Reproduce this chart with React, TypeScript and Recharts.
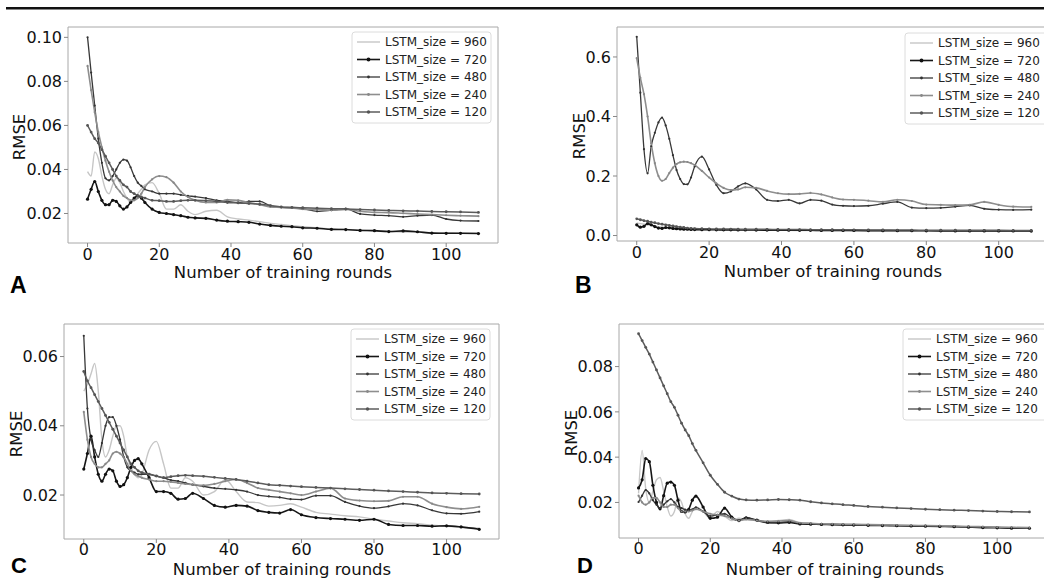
import React from 'react';
import { LineChart, Line, XAxis, YAxis, ReferenceArea } from 'recharts';

const ROUNDS = [
  0, 1, 2, 3, 4, 5, 6, 7, 8, 9, 10, 11, 12, 13, 14, 15, 16,
  18, 20, 22, 24, 26, 28, 30,
  33, 36, 39, 42, 45, 48, 51, 54, 57, 60,
  64, 68, 72, 76, 80, 84, 88, 92, 96, 100, 104, 109,
];

const SIZES = ['960', '720', '480', '240', '120'];

// Panel A
const A_960 = [0.039, 0.037, 0.048, 0.045, 0.037, 0.031, 0.029, 0.033, 0.036, 0.034, 0.030, 0.027, 0.025, 0.026, 0.029, 0.031, 0.033,
  0.034, 0.029, 0.022, 0.022, 0.024, 0.021, 0.0195,
  0.021, 0.0215, 0.0185, 0.0175, 0.017, 0.0163, 0.0155, 0.015, 0.0145, 0.014,
  0.0135, 0.013, 0.0128, 0.0125, 0.012, 0.0118, 0.0116, 0.0115, 0.0113, 0.0112, 0.011, 0.011];
const A_720 = [0.0265, 0.031, 0.0345, 0.030, 0.026, 0.024, 0.024, 0.026, 0.0255, 0.0235, 0.022, 0.023, 0.025, 0.027, 0.028, 0.027, 0.025,
  0.022, 0.0205, 0.020, 0.0195, 0.019, 0.0183, 0.018,
  0.0178, 0.017, 0.0165, 0.0163, 0.016, 0.0152, 0.0146, 0.0142, 0.014, 0.0135,
  0.0133, 0.0128, 0.0127, 0.0123, 0.0122, 0.0118, 0.0121, 0.0117, 0.0111, 0.011, 0.011, 0.0109];
const A_480 = [0.100, 0.084, 0.069, 0.054, 0.043, 0.036, 0.035, 0.037, 0.040, 0.043, 0.0445, 0.044, 0.041, 0.037, 0.034, 0.0325, 0.031,
  0.030, 0.029, 0.029, 0.029, 0.0285, 0.028, 0.0277,
  0.027, 0.026, 0.0255, 0.025, 0.0255, 0.0255, 0.0235, 0.0228, 0.0225, 0.0222,
  0.021, 0.0215, 0.0222, 0.0198, 0.0193, 0.019, 0.0185, 0.019, 0.0193, 0.0175, 0.0168, 0.0166];
const A_240 = [0.087, 0.076, 0.066, 0.057, 0.050, 0.044, 0.039, 0.035, 0.032, 0.030, 0.028, 0.027, 0.026, 0.026, 0.027, 0.029, 0.032,
  0.0355, 0.037, 0.0365, 0.034, 0.030, 0.0275, 0.026,
  0.025, 0.025, 0.0262, 0.026, 0.025, 0.024, 0.023, 0.0228, 0.0225, 0.022,
  0.0218, 0.0215, 0.0218, 0.021, 0.0205, 0.0204, 0.0201, 0.0198, 0.0195, 0.0192, 0.019, 0.0188];
const A_120 = [0.060, 0.057, 0.054, 0.052, 0.049, 0.046, 0.043, 0.040, 0.037, 0.035, 0.033, 0.032, 0.030, 0.029, 0.028, 0.0275, 0.027,
  0.026, 0.0258, 0.0255, 0.0255, 0.0258, 0.026, 0.026,
  0.0258, 0.0255, 0.025, 0.0248, 0.0245, 0.0242, 0.0236, 0.023, 0.0228, 0.0226,
  0.0224, 0.0222, 0.022, 0.0218, 0.0216, 0.0214, 0.0212, 0.0211, 0.0209, 0.0208, 0.0207, 0.0205];

// Panel B
const B_960 = [0.042, 0.040, 0.038, 0.036, 0.034, 0.032, 0.030, 0.028, 0.026, 0.024, 0.022, 0.021, 0.020, 0.019, 0.0185, 0.019, 0.0195,
  0.020, 0.020, 0.0195, 0.019, 0.019, 0.0185, 0.018,
  0.018, 0.0178, 0.0175, 0.0172, 0.017, 0.017, 0.0168, 0.0165, 0.0165, 0.0162,
  0.016, 0.016, 0.0158, 0.0155, 0.0155, 0.0152, 0.015, 0.015, 0.0148, 0.0145, 0.0145, 0.0143];
const B_720 = [0.036, 0.028, 0.031, 0.040, 0.036, 0.030, 0.025, 0.024, 0.027, 0.026, 0.024, 0.023, 0.022, 0.0215, 0.021, 0.0205, 0.020,
  0.0198, 0.0195, 0.0192, 0.019, 0.019, 0.0188, 0.0186,
  0.0184, 0.0182, 0.018, 0.0178, 0.0176, 0.0175, 0.0173, 0.0172, 0.017, 0.0168,
  0.0166, 0.0164, 0.0162, 0.016, 0.0158, 0.0157, 0.0156, 0.0155, 0.0154, 0.0153, 0.0152, 0.015];
const B_480 = [0.668, 0.48, 0.29, 0.209, 0.30, 0.345, 0.38, 0.396, 0.37, 0.325, 0.27, 0.22, 0.19, 0.173, 0.172, 0.195, 0.232,
  0.265, 0.222, 0.17, 0.142, 0.148, 0.165, 0.175,
  0.155, 0.12, 0.116, 0.12, 0.108, 0.12, 0.117, 0.104, 0.1, 0.099,
  0.1, 0.107, 0.113, 0.094, 0.092, 0.093, 0.097, 0.101, 0.09, 0.087, 0.086, 0.087];
const B_240 = [0.596, 0.53, 0.475, 0.40, 0.31, 0.243, 0.2, 0.184, 0.19, 0.21, 0.228, 0.24, 0.246, 0.248, 0.247, 0.243, 0.237,
  0.217, 0.195, 0.175, 0.16, 0.153, 0.155, 0.162,
  0.16, 0.15, 0.142, 0.139, 0.14, 0.143, 0.138, 0.128, 0.121, 0.12,
  0.117, 0.113, 0.12, 0.116, 0.104, 0.103, 0.102, 0.103, 0.113, 0.103, 0.097, 0.096];
const B_120 = [0.056, 0.053, 0.050, 0.048, 0.045, 0.043, 0.040, 0.038, 0.036, 0.034, 0.032, 0.030, 0.028, 0.027, 0.025, 0.024, 0.0235,
  0.023, 0.0225, 0.022, 0.022, 0.0218, 0.0215, 0.0213,
  0.021, 0.0208, 0.0205, 0.0203, 0.020, 0.0198, 0.0196, 0.0194, 0.0192, 0.019,
  0.0188, 0.0186, 0.0184, 0.0182, 0.018, 0.0178, 0.0177, 0.0176, 0.0175, 0.0174, 0.0173, 0.0172];

// Panel C
const C_960 = [0.050, 0.052, 0.055, 0.058, 0.050, 0.036, 0.031, 0.033, 0.037, 0.040, 0.040, 0.037, 0.031, 0.028, 0.026, 0.025, 0.026,
  0.033, 0.0355, 0.029, 0.022, 0.022, 0.025, 0.024,
  0.020, 0.021, 0.0245, 0.021, 0.018, 0.0178, 0.0168, 0.017, 0.0175, 0.0165,
  0.015, 0.0145, 0.014, 0.0137, 0.013, 0.0125, 0.012, 0.0117, 0.0113, 0.011, 0.0107, 0.0104];
const C_720 = [0.0275, 0.032, 0.037, 0.031, 0.026, 0.024, 0.026, 0.0275, 0.027, 0.024, 0.0225, 0.023, 0.025, 0.028, 0.030, 0.0305, 0.029,
  0.025, 0.021, 0.021, 0.0205, 0.0188, 0.019, 0.0205,
  0.019, 0.017, 0.0165, 0.017, 0.0168, 0.0155, 0.015, 0.0148, 0.0158, 0.0143,
  0.0135, 0.0132, 0.013, 0.0127, 0.013, 0.0115, 0.0112, 0.0112, 0.011, 0.0111, 0.0108, 0.0101];
const C_480 = [0.066, 0.045, 0.036, 0.033, 0.031, 0.035, 0.040, 0.0425, 0.0425, 0.040, 0.036, 0.031, 0.028, 0.027, 0.0265, 0.026, 0.026,
  0.026, 0.0255, 0.025, 0.0243, 0.024, 0.0235, 0.023,
  0.0225, 0.022, 0.0218, 0.0215, 0.021, 0.020, 0.0196, 0.0193, 0.0188, 0.0187,
  0.0198, 0.0198, 0.018, 0.0168, 0.0162, 0.0167, 0.0175, 0.017, 0.0156, 0.0147, 0.0146, 0.0152];
const C_240 = [0.044, 0.036, 0.031, 0.029, 0.028, 0.028, 0.029, 0.030, 0.032, 0.0325, 0.032, 0.031, 0.029, 0.027, 0.026, 0.0255, 0.025,
  0.0245, 0.024, 0.024, 0.0238, 0.0235, 0.0232, 0.023,
  0.0228, 0.0232, 0.024, 0.0245, 0.0235, 0.022, 0.0215, 0.021, 0.0205, 0.020,
  0.021, 0.022, 0.019, 0.0184, 0.0182, 0.0183, 0.0195, 0.0195, 0.0175, 0.0165, 0.016, 0.0166];
const C_120 = [0.0557, 0.053, 0.051, 0.049, 0.047, 0.045, 0.043, 0.041, 0.039, 0.037, 0.035, 0.033, 0.031, 0.029, 0.028, 0.027, 0.0265,
  0.026, 0.0255, 0.025, 0.0253, 0.0256, 0.0257, 0.0256,
  0.0254, 0.0251, 0.0248, 0.0245, 0.024, 0.0235, 0.023, 0.0228, 0.0226, 0.0224,
  0.0222, 0.022, 0.0218, 0.0216, 0.0214, 0.0212, 0.021, 0.0208, 0.0206, 0.0205, 0.0204, 0.0203];

// Panel D
const D_960 = [0.024, 0.043, 0.026, 0.020, 0.025, 0.030, 0.031, 0.025, 0.018, 0.014, 0.016, 0.022, 0.020, 0.015, 0.013, 0.016, 0.018,
  0.016, 0.013, 0.016, 0.014, 0.012, 0.013, 0.0125,
  0.012, 0.0115, 0.012, 0.0125, 0.011, 0.0107, 0.0105, 0.0105, 0.0104, 0.0103,
  0.0102, 0.010, 0.0098, 0.0097, 0.0096, 0.0095, 0.0094, 0.0092, 0.0091, 0.009, 0.0088, 0.0087];
const D_720 = [0.0264, 0.030, 0.0394, 0.038, 0.0276, 0.020, 0.0172, 0.023, 0.0285, 0.029, 0.0276, 0.021, 0.016, 0.0158, 0.017, 0.021, 0.0228,
  0.018, 0.013, 0.0135, 0.0175, 0.0135, 0.012, 0.0132,
  0.0122, 0.0112, 0.011, 0.0112, 0.0105, 0.0104, 0.0103, 0.0102, 0.0101, 0.010,
  0.0099, 0.0098, 0.0097, 0.0096, 0.0095, 0.0094, 0.0093, 0.0091, 0.0089, 0.0088, 0.0086, 0.0086];
const D_480 = [0.0202, 0.023, 0.0255, 0.024, 0.021, 0.019, 0.0175, 0.019, 0.0205, 0.0215, 0.020, 0.018, 0.0175, 0.0168, 0.0165, 0.017, 0.0178,
  0.016, 0.014, 0.0145, 0.015, 0.013, 0.012, 0.0133,
  0.012, 0.011, 0.0112, 0.0115, 0.0108, 0.0105, 0.0104, 0.0103, 0.0102, 0.0101,
  0.010, 0.0099, 0.0098, 0.0097, 0.0096, 0.0095, 0.0094, 0.0093, 0.0091, 0.009, 0.0089, 0.0088];
const D_240 = [0.023, 0.020, 0.019, 0.020, 0.022, 0.022, 0.020, 0.018, 0.018, 0.019, 0.019, 0.0175, 0.016, 0.016, 0.016, 0.0165, 0.017,
  0.016, 0.015, 0.0145, 0.014, 0.013, 0.012, 0.0125,
  0.012, 0.0117, 0.0118, 0.012, 0.011, 0.0108, 0.0106, 0.0105, 0.0104, 0.0103,
  0.0102, 0.0101, 0.010, 0.0099, 0.0098, 0.0097, 0.0096, 0.0094, 0.0093, 0.0091, 0.009, 0.0089];
const D_120 = [0.0945, 0.0915, 0.0885, 0.0855, 0.082, 0.0785, 0.075, 0.0715, 0.068, 0.0645, 0.062, 0.0585, 0.055, 0.052, 0.0495, 0.046, 0.043,
  0.0375, 0.032, 0.028, 0.0245, 0.0228, 0.0215, 0.0211,
  0.021, 0.0211, 0.0213, 0.0212, 0.021, 0.0203, 0.0198, 0.0194, 0.019, 0.0187,
  0.0182, 0.0179, 0.0176, 0.0173, 0.017, 0.0168, 0.0166, 0.0164, 0.0162, 0.016, 0.0159, 0.0158];

const X_TICKS = [0, 20, 40, 60, 80, 100];
const X_DOMAIN: [number, number] = [-5.45, 114.45];

const SERIES_STYLE: Record<string, { stroke: string; width: number; dot: number; fill: string }> = {
  '960': { stroke: '#c6c6c6', width: 1.4, dot: 0, fill: '#c6c6c6' },
  '720': { stroke: '#161616', width: 1.6, dot: 1.6, fill: '#111' },
  '480': { stroke: '#383838', width: 1.3, dot: 1.1, fill: '#333' },
  '240': { stroke: '#8e8e8e', width: 1.6, dot: 1.1, fill: '#888' },
  '120': { stroke: '#5c5c5c', width: 1.5, dot: 1.4, fill: '#555' },
};

const FONT = '"DejaVu Sans", sans-serif';

const buildRows = (cols: number[][]) =>
  ROUNDS.map((round, i) => {
    const row: Record<string, number> = { round };
    SIZES.forEach((s, k) => {
      row['s' + s] = cols[k][i];
    });
    return row;
  });

interface PanelProps {
  left: number;
  top: number;
  boxWidth: number;
  chartWidth: number;
  height: number;
  marginTop: number;
  marginRight: number;
  yAxisWidth: number;
  xAxisHeight: number;
  tickGap: number;
  rows: Record<string, number>[];
  yDomain: [number, number];
  yTicks: number[];
  yDigits: number;
}

const Panel: React.FC<PanelProps> = (p) => (
  <div style={{ position: 'absolute', left: p.left, top: p.top, width: p.boxWidth, height: p.height, overflow: 'hidden' }}>
    <LineChart
      width={p.chartWidth}
      height={p.height}
      data={p.rows}
      margin={{ top: p.marginTop, right: p.marginRight, bottom: 0, left: 0 }}
    >
      <XAxis
        dataKey="round"
        type="number"
        domain={X_DOMAIN}
        ticks={X_TICKS}
        interval={0}
        allowDataOverflow
        axisLine={false}
        tickSize={4}
        tickMargin={p.tickGap}
        tickLine={{ stroke: '#888' }}
        tick={{ fill: '#111', fontSize: 16 }}
        height={p.xAxisHeight}
      />
      <YAxis
        type="number"
        domain={p.yDomain}
        ticks={p.yTicks}
        interval={0}
        allowDataOverflow
        axisLine={false}
        tickSize={4}
        tickMargin={2}
        tickLine={{ stroke: '#888' }}
        tick={{ fill: '#111', fontSize: 16 }}
        width={p.yAxisWidth}
        tickFormatter={(v: number) => v.toFixed(p.yDigits)}
      />
      <ReferenceArea
        x1={X_DOMAIN[0]}
        x2={X_DOMAIN[1]}
        y1={p.yDomain[0]}
        y2={p.yDomain[1]}
        fill="none"
        stroke="#a8a8a8"
        strokeWidth={1}
        ifOverflow="visible"
      />
      {SIZES.map((s) => {
        const st = SERIES_STYLE[s];
        return (
          <Line
            key={s}
            type="monotone"
            dataKey={'s' + s}
            stroke={st.stroke}
            strokeWidth={st.width}
            dot={st.dot ? { r: st.dot, fill: st.fill, stroke: 'none' } : false}
            activeDot={false}
            isAnimationActive={false}
          />
        );
      })}
    </LineChart>
  </div>
);

const LegendBox: React.FC<{ x: number; y: number; w: number }> = ({ x, y, w }) => (
  <g>
    <rect x={x} y={y} width={w} height={91} rx={3} fill="#fff" fillOpacity={0.85} stroke="#dcdcdc" />
    {SIZES.map((s, i) => {
      const st = SERIES_STYLE[s];
      const cy = y + 10 + i * 17.5;
      return (
        <g key={s}>
          <line x1={x + 5} x2={x + 28} y1={cy} y2={cy} stroke={st.stroke} strokeWidth={st.width} />
          {st.dot ? <circle cx={x + 16.5} cy={cy} r={st.dot + 0.3} fill={st.fill} /> : null}
          <text x={x + 33} y={cy} dominantBaseline="central" fontSize={12} fill="#222">
            LSTM_size = {s}
          </text>
        </g>
      );
    })}
  </g>
);

const RmseTitle: React.FC<{ x: number; y: number }> = ({ x, y }) => (
  <text x={x} y={y} transform={`rotate(-90 ${x} ${y})`} textAnchor="middle" fontSize={16.5} fill="#111">
    RMSE
  </text>
);

const RoundsTitle: React.FC<{ x: number; y: number }> = ({ x, y }) => (
  <text x={x} y={y} textAnchor="middle" fontSize={16.5} fill="#111">
    Number of training rounds
  </text>
);

const PanelLetter: React.FC<{ x: number; y: number; label: string; size: number }> = ({ x, y, label, size }) => (
  <text x={x} y={y} fontSize={size} fontWeight="bold" fontFamily='"Liberation Sans", Arial, sans-serif' fill="#000">
    {label}
  </text>
);

const App: React.FC = () => {
  const rowsA = buildRows([A_960, A_720, A_480, A_240, A_120]);
  const rowsB = buildRows([B_960, B_720, B_480, B_240, B_120]);
  const rowsC = buildRows([C_960, C_720, C_480, C_240, C_120]);
  const rowsD = buildRows([D_960, D_720, D_480, D_240, D_120]);

  return (
    <div style={{ position: 'absolute', left: 0, top: 0, width: 1044, height: 578, background: '#fff', overflow: 'hidden', fontFamily: FONT }}>
      <Panel left={0} top={0} boxWidth={520} chartWidth={520} height={290} marginTop={27} marginRight={22} tickGap={2}
        yAxisWidth={68} xAxisHeight={47} rows={rowsA} yDomain={[0.0066, 0.1047]} yTicks={[0.02, 0.04, 0.06, 0.08, 0.1]} yDigits={2} />
      <Panel left={520} top={0} boxWidth={524} chartWidth={531} height={290} marginTop={27} marginRight={0} tickGap={2}
        yAxisWidth={97} xAxisHeight={49} rows={rowsB} yDomain={[-0.0184, 0.7007]} yTicks={[0, 0.2, 0.4, 0.6]} yDigits={1} />
      <Panel left={0} top={290} boxWidth={520} chartWidth={520} height={288} marginTop={34} marginRight={21} tickGap={1}
        yAxisWidth={64} xAxisHeight={39} rows={rowsC} yDomain={[0.0073, 0.0694]} yTicks={[0.02, 0.04, 0.06]} yDigits={2} />
      <Panel left={520} top={290} boxWidth={524} chartWidth={529} height={288} marginTop={34} marginRight={0} tickGap={1}
        yAxisWidth={99} xAxisHeight={40} rows={rowsD} yDomain={[0.0043, 0.0988]} yTicks={[0.02, 0.04, 0.06, 0.08]} yDigits={2} />

      <svg width={1044} height={578} style={{ position: 'absolute', left: 0, top: 0, pointerEvents: 'none', fontFamily: FONT }}>
        <rect x={6} y={7} width={1038} height={2.5} fill="#111" />

        <LegendBox x={352} y={32} w={139} />
        <LegendBox x={905} y={33} w={150} />
        <LegendBox x={351} y={329} w={139} />
        <LegendBox x={903} y={329} w={150} />

        <RmseTitle x={25} y={137} />
        <RmseTitle x={585} y={136} />
        <RmseTitle x={22} y={434} />
        <RmseTitle x={577} y={433} />

        <RoundsTitle x={283} y={278} />
        <RoundsTitle x={833} y={277} />
        <RoundsTitle x={282} y={575} />
        <RoundsTitle x={835} y={575} />

        <PanelLetter x={10} y={293} label="A" size={23} />
        <PanelLetter x={575} y={293} label="B" size={23} />
        <PanelLetter x={11} y={573} label="C" size={22} />
        <PanelLetter x={577} y={573} label="D" size={22} />
      </svg>
    </div>
  );
};

export default App;
